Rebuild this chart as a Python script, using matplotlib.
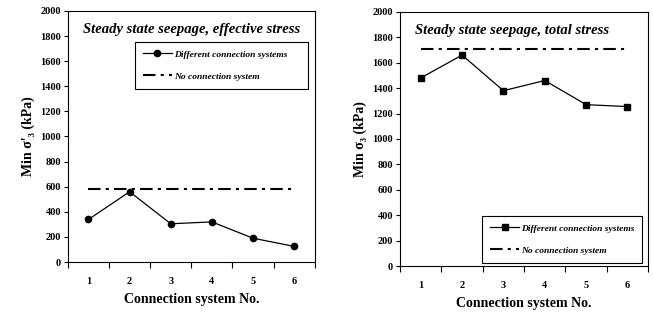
import matplotlib
matplotlib.use("Agg")
import matplotlib.pyplot as plt
from matplotlib.ticker import FixedLocator

systems = [1, 2, 3, 4, 5, 6]
effective_min_s3 = [340, 560, 305, 320, 190, 125]
effective_no_conn = 580
total_min_s3 = [1480, 1660, 1380, 1460, 1270, 1255]
total_no_conn = 1710
yticks = list(range(0, 2001, 200))

plt.rcParams['font.family'] = ['Liberation Serif', 'DejaVu Serif']
plt.rcParams['font.weight'] = 'bold'

fig = plt.figure(figsize=(6.53, 3.12), dpi=100)

def style_axes(ax):
    ax.set_xlim(0.5, 6.5)
    ax.set_ylim(0, 2000)
    ax.set_xticks(systems)
    ax.set_xticklabels([str(s) for s in systems], fontsize=7.5, fontweight='bold')
    ax.xaxis.set_minor_locator(FixedLocator([0.5 + i for i in range(7)]))
    ax.tick_params(axis='x', which='major', length=0, pad=11)
    ax.tick_params(axis='x', which='minor', length=4, width=0.8, direction='out')
    ax.set_yticks(yticks)
    ax.set_yticklabels([str(v) for v in yticks], fontsize=7.5, fontweight='bold')
    ax.tick_params(axis='y', length=3, width=0.8, direction='out', pad=2)
    for s in ax.spines.values():
        s.set_linewidth(0.8)
    ax.set_xlabel('Connection system No.', fontsize=10, fontweight='bold', labelpad=5)

dash = (0, (6, 2.5, 1.5, 2.5))
leg_kw = dict(prop={'style': 'italic', 'weight': 'bold', 'size': 6.8},
              frameon=True, fancybox=False, edgecolor='black', framealpha=1,
              borderpad=0.85, labelspacing=1.4, handlelength=3.1, handletextpad=0.2,
              borderaxespad=0, loc='upper left', mode='expand')

ax1 = fig.add_axes([0.104, 0.160, 0.378, 0.805])
style_axes(ax1)
ax1.plot(systems, effective_min_s3, color='black', lw=0.9, marker='o', ms=4.5,
         label='Different connection systems')
ax1.plot([systems[0], systems[-1]], [effective_no_conn] * 2, color='black', lw=1.5,
         linestyle=dash, label='No connection system')
ax1.set_ylabel("Min σ'₃ (kPa)", fontsize=10, fontweight='bold', labelpad=4)
ax1.text(0.06, 0.925, 'Steady state seepage, effective stress', transform=ax1.transAxes,
         fontsize=10.5, fontstyle='italic', fontweight='bold', va='center', ha='left')
leg1 = ax1.legend(bbox_to_anchor=(0.271, 0.876, 0.700, 0.0), **leg_kw)
leg1.get_frame().set_linewidth(0.8)

ax2 = fig.add_axes([0.6126, 0.147, 0.380, 0.815])
style_axes(ax2)
ax2.plot(systems, total_min_s3, color='black', lw=0.9, marker='s', ms=4.2,
         label='Different connection systems')
ax2.plot([systems[0], systems[-1]], [total_no_conn] * 2, color='black', lw=1.5,
         linestyle=dash, label='No connection system')
ax2.set_ylabel("Min σ₃ (kPa)", fontsize=10, fontweight='bold', labelpad=4)
ax2.text(0.06, 0.925, 'Steady state seepage, total stress', transform=ax2.transAxes,
         fontsize=10.5, fontstyle='italic', fontweight='bold', va='center', ha='left')
leg2 = ax2.legend(bbox_to_anchor=(0.331, 0.197, 0.645, 0.0), **leg_kw)
leg2.get_frame().set_linewidth(0.8)

fig.savefig('out.png', dpi=100)
